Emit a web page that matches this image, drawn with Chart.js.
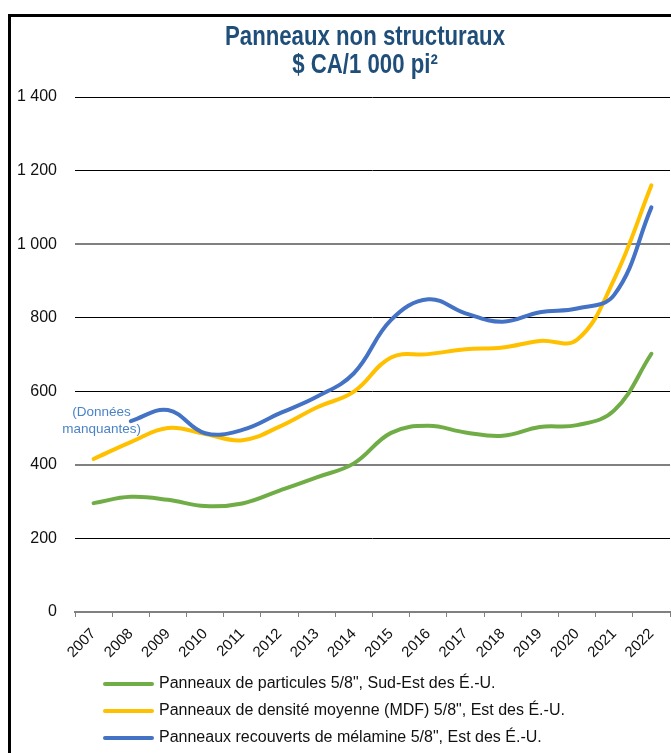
<!DOCTYPE html>
<html>
<head>
<meta charset="utf-8">
<script src="https://cdn.jsdelivr.net/npm/chart.js@4.4.1/dist/chart.umd.min.js"></script>
<style>
  html, body { margin: 0; padding: 0; background: #fff; overflow: hidden; }
  body { width: 671px; height: 753px; position: relative; }
  .frame { position: absolute; left: 8px; top: 14px; width: 760px; height: 800px;
           border: 3px solid #000; box-sizing: border-box; }
  #wrap { position: absolute; left: 0; top: 0; width: 730px; height: 753px; }
</style>
</head>
<body>
<div class="frame"></div>
<div id="wrap"><canvas id="chart"></canvas></div>
<script>
// Données
const years = ["2007", "2008", "2009", "2010", "2011", "2012", "2013", "2014",
               "2015", "2016", "2017", "2018", "2019", "2020", "2021", "2022"];
const particules = [296, 313, 305, 288, 295, 330, 366, 404, 487, 506, 488, 479, 503, 508, 548, 702];
const mdf        = [416, 462, 500, 484, 467, 504, 556, 599, 692, 701, 714, 719, 737, 740, 905, 1160];
const melamine   = [null, 519, 549, 486, 495, 540, 585, 649, 794, 850, 812, 789, 815, 825, 862, 1100];
const seriesNames = [
  'Panneaux de particules 5/8", Sud-Est des É.-U.',
  'Panneaux de densité moyenne (MDF) 5/8", Est des É.-U.',
  'Panneaux recouverts de mélamine 5/8", Est des É.-U.'
];
const seriesColors = ["#70AD47", "#FFC000", "#4472C4"];
const titleLines = ["Panneaux non structuraux", "$ CA/1 000 pi²"];
const missingNote = ["(Données", "manquantes)"];

const FONT = "'Liberation Sans', Arial, sans-serif";
const NARROW = "'Liberation Sans Narrow', 'Arial Narrow', 'Liberation Sans', Arial, sans-serif";

function fmt(v) {
  return String(v).replace(/\B(?=(\d{3})+(?!\d))/g, " ");
}

// titre, légende et note maison
const extras = {
  id: "extras",
  afterDraw(chart) {
    const ctx = chart.ctx;
    ctx.save();

    // titre (police étroite, largeur ramenée à celle du modèle)
    ctx.font = "bold 27px " + NARROW;
    ctx.fillStyle = "#1F4E79";
    ctx.textAlign = "center";
    ctx.textBaseline = "alphabetic";
    const k = Math.min(1, 280 / ctx.measureText(titleLines[0]).width);
    [45, 73].forEach((y, i) => {
      ctx.save();
      ctx.translate(365, y);
      ctx.scale(k, 1);
      ctx.fillText(titleLines[i], 0, 0);
      ctx.restore();
    });

    // légende
    ctx.font = "16px " + FONT;
    ctx.textAlign = "left";
    ctx.textBaseline = "middle";
    chart.data.datasets.forEach((ds, i) => {
      const y = 684 + i * 27;
      ctx.strokeStyle = ds.borderColor;
      ctx.lineWidth = 4;
      ctx.lineCap = "round";
      ctx.beginPath();
      ctx.moveTo(105, y);
      ctx.lineTo(152, y);
      ctx.stroke();
      ctx.fillStyle = "#111";
      ctx.fillText(ds.label, 159, y);
    });

    // note sur les données manquantes
    const xs = chart.scales.x, ys = chart.scales.y;
    const cx = xs.getPixelForValue(0) + 8;
    ctx.font = "13.5px " + FONT;
    ctx.fillStyle = "#4A84C6";
    ctx.textAlign = "center";
    ctx.fillText(missingNote[0], cx, ys.getPixelForValue(543));
    ctx.fillText(missingNote[1], cx, ys.getPixelForValue(497));
    ctx.restore();
  }
};

const ctx = document.getElementById("chart").getContext("2d");
new Chart(ctx, {
  type: "line",
  data: {
    labels: years,
    datasets: [
      { label: seriesNames[0], data: particules, borderColor: seriesColors[0], order: 2 },
      { label: seriesNames[1], data: mdf, borderColor: seriesColors[1], order: 1 },
      { label: seriesNames[2], data: melamine, borderColor: seriesColors[2], order: 0 }
    ]
  },
  options: {
    responsive: true,
    maintainAspectRatio: false,
    animation: false,
    layout: { padding: { left: 10, right: 60, top: 97, bottom: 0 } },
    elements: {
      line: { borderWidth: 4, tension: 0.4, borderCapStyle: "round", fill: false },
      point: { radius: 0, hoverRadius: 0 }
    },
    plugins: {
      legend: { display: false },
      tooltip: { enabled: false },
      title: { display: false }
    },
    scales: {
      x: {
        offset: true,
        afterFit(scale) { scale.height = 141; },
        grid: {
          offset: true,
          drawOnChartArea: false,
          drawTicks: true,
          tickLength: 5,
          color: "#808080"
        },
        border: { display: true, color: "#808080", width: 2 },
        ticks: {
          maxRotation: 45,
          minRotation: 45,
          padding: 8,
          color: "#111",
          font: { family: FONT, size: 15 }
        }
      },
      y: {
        min: 0,
        max: 1400,
        afterFit(scale) { scale.width = 65; },
        border: { display: false },
        grid: {
          drawTicks: false,
          color: (c) => (c.tick && (c.tick.value === 1000 || c.tick.value === 400 || c.tick.value === 0)) ? "#808080" : "#000",
          lineWidth: (c) => (c.tick && (c.tick.value === 1000 || c.tick.value === 400)) ? 2 : 1
        },
        ticks: {
          stepSize: 200,
          padding: 18,
          color: "#111",
          font: { family: FONT, size: 16 },
          callback: (v) => fmt(v)
        }
      }
    }
  },
  plugins: [extras]
});
</script>
</body>
</html>
